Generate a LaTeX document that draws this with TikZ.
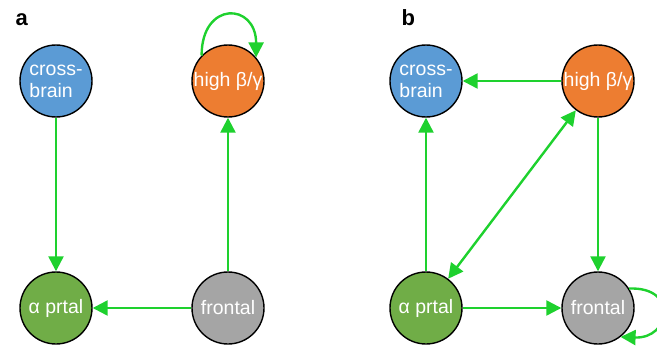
\documentclass[tikz,border=0pt]{standalone}
\usepackage{fontspec}
\setmainfont{Liberation Sans}
\usetikzlibrary{arrows.meta}
\definecolor{eg}{HTML}{1ED12E}
\definecolor{cblue}{HTML}{5B9BD5}
\definecolor{corange}{HTML}{ED7D31}
\definecolor{cgreen}{HTML}{70AD47}
\definecolor{cgray}{HTML}{A5A5A5}
\tikzset{
  region/.style={circle, draw=black, line width=1.4pt, minimum size=72pt, inner sep=0pt,
    text=white, font=\fontsize{19.5}{22}\selectfont},
  conn/.style={draw=eg, line width=2.4pt, -{Triangle[length=15pt,width=15pt]}},
  biconn/.style={draw=eg, line width=2.4pt, {Triangle[length=15pt,width=15pt]}-{Triangle[length=15pt,width=15pt]}},
  panel/.style={font=\fontsize{22}{26}\selectfont\bfseries, anchor=base west}
}
\begin{document}
\begin{tikzpicture}[x=1pt,y=-1pt]
\useasboundingbox (0,0) rectangle (657,348);
% panel a
\node[panel] (la) at (12,26) {a};
\node[region, fill=cblue, align=left] (acb) at (56,81) {cross-\\brain};
\node[region, fill=corange] (ahb) at (228,81) {high β/γ};
\node[region, fill=cgreen] (aap) at (56,308) {α prtal};
\node[region, fill=cgray] (afr) at (228,308) {frontal};
\draw[conn] (acb) -- (aap);
\draw[conn] (afr) -- (ahb);
\draw[conn] (afr) -- (aap);
\draw[conn] (ahb.136) .. controls +(0,-55) and +(0,-55) .. (ahb.40);
% panel b
\node[panel] (lb) at (398,26) {b};
\node[region, fill=cblue, align=left] (bcb) at (426,81) {cross-\\brain};
\node[region, fill=corange] (bhb) at (598,81) {high β/γ};
\node[region, fill=cgreen] (bap) at (426,308) {α prtal};
\node[region, fill=cgray] (bfr) at (598,308) {frontal};
\draw[conn] (bhb) -- (bcb);
\draw[conn] (bap) -- (bcb);
\draw[conn] (bhb) -- (bfr);
\draw[conn] (bap) -- (bfr);
\draw[biconn] (bap) -- (bhb);
\draw[conn] (bfr.32) .. controls +(50,-2) and +(50,2) .. (bfr.-52);
\end{tikzpicture}
\end{document}
